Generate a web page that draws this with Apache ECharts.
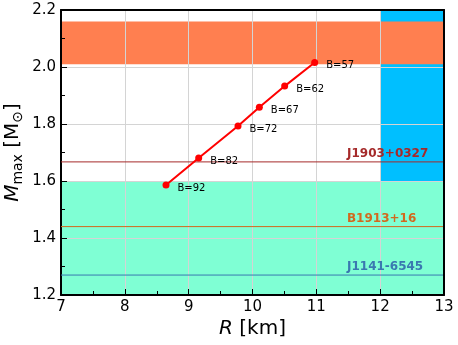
<!DOCTYPE html>
<html>
<head>
<meta charset="utf-8">
<script src="https://cdn.jsdelivr.net/npm/echarts@6/dist/echarts.min.js"></script>
<style>
  html, body { margin: 0; padding: 0; background: #fff; }
  #chart { width: 458px; height: 345px; }
</style>
</head>
<body>
<div id="chart"></div>
<script>
// EOS curve: radius (km), max mass (Msun), B parameter
const radius = [8.645, 9.157, 9.773, 10.107, 10.504, 10.974];
const maxMass = [1.586, 1.681, 1.793, 1.859, 1.933, 2.016];
const bValues = [92, 82, 72, 67, 62, 57];

// axis ranges
const rRange = [7, 13];
const mRange = [1.2, 2.2];

// pulsar mass lines
const pulsarNames = ["J1903+0327", "B1913+16", "J1141-6545"];
const pulsarMass = [1.667, 1.44, 1.27];
const pulsarColors = ["#a52a2a", "#d2691e", "#3a78b0"];
const pulsarLabelR = 11.48;

// constraint bands
const greenBand = [1.2, 1.6];        // mass range, full width
const blueBand = { r: [12, 13], m: [1.6, 2.2] };
const orangeBand = [2.01, 2.16];     // mass range, full width

const FONT = "DejaVu Sans";

const chart = echarts.init(document.getElementById("chart"));

const baseAxis = {
  axisLine: { show: true, onZero: false, lineStyle: { color: "#000", width: 2 } },
  axisTick: { show: true, inside: true, length: 6, lineStyle: { color: "#000", width: 1 } },
  minorTick: { show: true, splitNumber: 2, length: 4, lineStyle: { color: "#000", width: 1 } },
  splitLine: { show: true, lineStyle: { color: "#d4d4d4", width: 1 } },
  axisLabel: { color: "#000", fontFamily: FONT, fontSize: 15 },
  nameMoveOverlap: false,
  z: 3,
};

const frameAxis = {
  axisLine: { show: true, onZero: false, lineStyle: { color: "#000", width: 2 } },
  axisTick: { show: false },
  axisLabel: { show: false },
  splitLine: { show: false },
  z: 10,
};

// one line series + one label per pulsar
const pulsarSeries = [];
pulsarNames.forEach((name, i) => {
  pulsarSeries.push({
    type: "line",
    data: [[rRange[0], pulsarMass[i]], [rRange[1], pulsarMass[i]]],
    z: 4,
    silent: true,
    showSymbol: false,
    symbol: "none",
    lineStyle: { color: pulsarColors[i], width: 1 },
    itemStyle: { color: pulsarColors[i] },
  });
  pulsarSeries.push({
    type: "scatter",
    symbol: "circle",
    symbolSize: 0,
    z: 4,
    silent: true,
    itemStyle: { color: pulsarColors[i], opacity: 1 },
    data: [[pulsarLabelR, pulsarMass[i]]],
    label: {
      show: true,
      position: "right",
      distance: 0,
      offset: [0, -8],
      color: pulsarColors[i],
      fontFamily: FONT,
      fontSize: 12,
      fontWeight: "bold",
      formatter: () => name,
    },
  });
});

const option = {
  animation: false,
  backgroundColor: "#fff",
  grid: { left: 61, right: 14, top: 10, bottom: 50, containLabel: false, outerBoundsMode: "none" },
  xAxis: [
    Object.assign({}, baseAxis, {
      type: "value", min: rRange[0], max: rRange[1], interval: 1,
      axisLabel: Object.assign({}, baseAxis.axisLabel, { margin: 5 }),
      name: "{it|R} [km]",
      nameLocation: "middle",
      nameGap: 24,
      nameTextStyle: {
        color: "#000", fontFamily: FONT, fontSize: 20,
        rich: { it: { fontFamily: FONT, fontSize: 20, fontStyle: "italic", color: "#000" } },
      },
    }),
    Object.assign({}, frameAxis, { type: "value", min: rRange[0], max: rRange[1], position: "top" }),
  ],
  yAxis: [
    Object.assign({}, baseAxis, {
      type: "value", min: mRange[0], max: mRange[1], interval: 0.2,
      axisLabel: Object.assign({}, baseAxis.axisLabel, { margin: 5, formatter: (v) => v.toFixed(1) }),
      name: "{it|M}{sub|max} [M{sub|⊙}]",
      nameLocation: "middle",
      nameRotate: 90,
      nameGap: 36,
      nameTextStyle: {
        color: "#000", fontFamily: FONT, fontSize: 20, lineHeight: 24,
        rich: {
          it: { fontFamily: FONT, fontSize: 20, fontStyle: "italic", color: "#000", lineHeight: 24 },
          sub: { fontFamily: FONT, fontSize: 14, color: "#000", lineHeight: 14, verticalAlign: "bottom" },
        },
      },
    }),
    Object.assign({}, frameAxis, { type: "value", min: mRange[0], max: mRange[1], position: "right" }),
  ],
  series: [
    {
      type: "line",
      data: [],
      z: 1,
      silent: true,
      markArea: {
        silent: true,
        data: [
          [{ yAxis: greenBand[0], itemStyle: { color: "#7fffd4", opacity: 1 } }, { yAxis: greenBand[1] }],
          [{ xAxis: blueBand.r[0], yAxis: blueBand.m[0], itemStyle: { color: "#00bfff", opacity: 1 } },
           { xAxis: blueBand.r[1], yAxis: blueBand.m[1] }],
        ],
      },
    },
    {
      type: "line",
      data: [],
      z: 1.5,
      silent: true,
      markArea: {
        silent: true,
        data: [
          [{ yAxis: orangeBand[0], itemStyle: { color: "#ff7f50", opacity: 1 } }, { yAxis: orangeBand[1] }],
        ],
      },
    },
    ...pulsarSeries,
    {
      type: "line",
      z: 5,
      data: radius.map((r, i) => [r, maxMass[i]]),
      symbol: "circle",
      symbolSize: 7,
      showSymbol: true,
      lineStyle: { color: "#ff0000", width: 2 },
      itemStyle: { color: "#ff0000" },
      label: {
        show: true,
        position: "right",
        distance: 8,
        offset: [0, 3],
        color: "#000",
        fontFamily: FONT,
        fontSize: 10,
        formatter: (p) => "B=" + bValues[p.dataIndex],
      },
    },
  ],
};

chart.setOption(option);
</script>
</body>
</html>
